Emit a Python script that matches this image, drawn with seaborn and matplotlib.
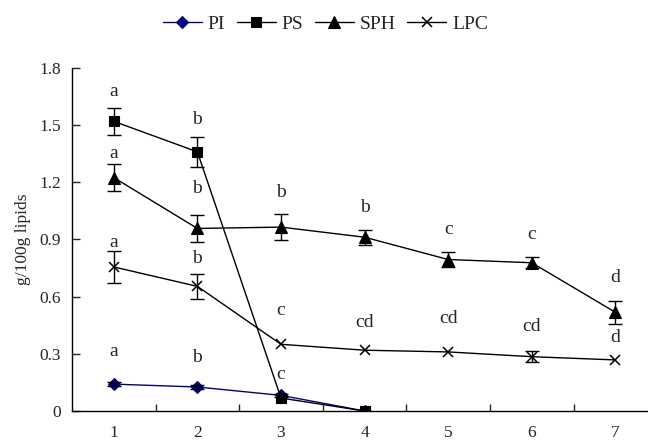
import matplotlib
matplotlib.use("Agg")
import matplotlib.pyplot as plt
import seaborn as sns
import pandas as pd
import numpy as np

days = [1, 2, 3, 4, 5, 6, 7]

pi_vals = [0.141, 0.126, 0.082, 0.0]
pi_err = [0.012, 0.010, 0.008, 0.0]
ps_vals = [1.52, 1.36, 0.068, 0.0]
ps_err = [0.07, 0.08, 0.0, 0.0]
sph_vals = [1.225, 0.958, 0.965, 0.912, 0.795, 0.778, 0.518]
sph_err = [0.07, 0.07, 0.07, 0.04, 0.04, 0.03, 0.06]
lpc_vals = [0.756, 0.654, 0.350, 0.319, 0.310, 0.285, 0.268]
lpc_err = [0.085, 0.065, 0.0, 0.0, 0.0, 0.03, 0.0]

pi_letters = ["a", "b", "c"]
pi_letter_y = [0.31, 0.28, 0.19]
ps_letters = ["a", "b"]
ps_letter_y = [1.675, 1.53]
sph_letters = ["a", "b", "b", "b", "c", "c", "d"]
sph_letter_y = [1.35, 1.17, 1.145, 1.07, 0.955, 0.925, 0.70]
lpc_letters = ["a", "b", "c", "cd", "cd", "cd", "d"]
lpc_letter_y = [0.885, 0.80, 0.53, 0.465, 0.485, 0.445, 0.385]

series = [
    ("PI", pi_vals, pi_err, "D", "#000080", 6),
    ("PS", ps_vals, ps_err, "s", "black", 7.5),
    ("SPH", sph_vals, sph_err, "^", "black", 8),
    ("LPC", lpc_vals, lpc_err, "x", "black", 7.5),
]

sns.set_style("ticks")
plt.rcParams["font.family"] = ["Liberation Serif", "DejaVu Serif"]

fig = plt.figure(figsize=(6.48, 4.42), dpi=100)
ax = fig.add_axes([72 / 648, 31 / 442, 1 - 72 / 648, (411 - 68) / 442])

for name, vals, err, mk, col, ms in series:
    df = pd.DataFrame({"day": days[:len(vals)], "val": vals})
    sns.lineplot(data=df, x="day", y="val", ax=ax, color=col, marker=mk,
                 markersize=ms, markeredgecolor=col, markeredgewidth=1.1 if mk == "x" else 0.8,
                 linewidth=1.0, label=name)
    e = np.array(err)
    m = e > 0
    ax.errorbar(np.array(days[:len(vals)])[m], np.array(vals)[m], yerr=e[m],
                fmt="none", ecolor="black", elinewidth=1.0, capsize=5, capthick=1.0)

for letters, ys in [(pi_letters, pi_letter_y), (ps_letters, ps_letter_y),
                    (sph_letters, sph_letter_y), (lpc_letters, lpc_letter_y)]:
    for i, (t, y) in enumerate(zip(letters, ys)):
        ax.text(days[i], y, t, ha="center", va="center", fontsize=14)

ax.set_xlim(0.5, 7.39)
ax.set_ylim(0, 1.8)
ax.set_xticks(days)
ax.set_xticklabels([str(d) for d in days])
ax.set_xticks([d + 0.5 for d in days[:-1]], minor=True)
ax.set_yticks([0, 0.3, 0.6, 0.9, 1.2, 1.5, 1.8])
ax.set_yticklabels(["0", "0.3", "0.6", "0.9", "1.2", "1.5", "1.8"])
ax.tick_params(axis="x", which="major", length=0, pad=10, labelsize=12.5)
ax.tick_params(axis="x", which="minor", direction="in", length=5, width=1)
ax.tick_params(axis="y", direction="in", length=6, width=1, labelsize=12.5, pad=8)
ax.set_xlabel("")
ax.set_ylabel("g/100g lipids", fontsize=12.5, labelpad=6)
for s in ["top", "right"]:
    ax.spines[s].set_visible(False)
for s in ["left", "bottom"]:
    ax.spines[s].set_linewidth(1.0)
    ax.spines[s].set_color("black")

ax.legend(loc="upper center", bbox_to_anchor=(0.44, 1.205), ncol=4, frameon=False,
          fontsize=14, handlelength=2.0, handletextpad=0.3, columnspacing=0.6)

fig.savefig("out.png", dpi=100)
